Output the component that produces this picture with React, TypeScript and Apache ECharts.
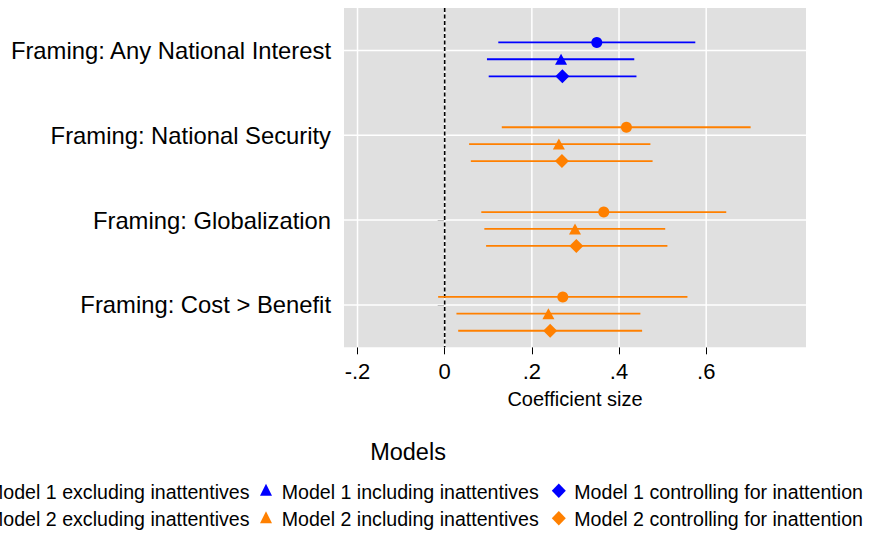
import React, { useEffect, useRef } from "react";
import * as echarts from "echarts";

const categories = [
  "Framing: Any National Interest",
  "Framing: National Security",
  "Framing: Globalization",
  "Framing: Cost > Benefit",
];

const xTickValues = [-0.2, 0, 0.2, 0.4, 0.6];
const xTickLabels = ["-.2", "0", ".2", ".4", ".6"];

// Model 1 appears in the first category, Model 2 in the other three
const m1Cats = [0];
const m2Cats = [1, 2, 3];

const m1ExclCoef = [0.349];
const m1ExclLo = [0.123];
const m1ExclHi = [0.575];
const m1InclCoef = [0.267];
const m1InclLo = [0.097];
const m1InclHi = [0.435];
const m1CtrlCoef = [0.27];
const m1CtrlLo = [0.101];
const m1CtrlHi = [0.44];

const m2ExclCoef = [0.417, 0.365, 0.271];
const m2ExclLo = [0.131, 0.084, -0.015];
const m2ExclHi = [0.702, 0.646, 0.557];
const m2InclCoef = [0.262, 0.299, 0.238];
const m2InclLo = [0.056, 0.091, 0.027];
const m2InclHi = [0.472, 0.506, 0.449];
const m2CtrlCoef = [0.269, 0.302, 0.242];
const m2CtrlLo = [0.06, 0.095, 0.031];
const m2CtrlHi = [0.477, 0.511, 0.453];

const legendTitle = "Models";
const legendLabels = [
  ["Model 1 excluding inattentives", "Model 1 including inattentives", "Model 1 controlling for inattention"],
  ["Model 2 excluding inattentives", "Model 2 including inattentives", "Model 2 controlling for inattention"],
];

const BLUE = "#0000ff";
const ORANGE = "#ff8000";
const FONT = "'Liberation Sans', Arial, Helvetica, sans-serif";

const OFF_CIRCLE = -0.094;
const OFF_TRI = 0.104;
const OFF_DIA = 0.305;

function buildSeries(
  name: string,
  color: string,
  symbol: string,
  symbolSize: any,
  cats: number[],
  coef: number[],
  lo: number[],
  hi: number[],
  offset: number
) {
  const ci = {
    type: "custom",
    name: name + " CI",
    xAxisIndex: 0,
    yAxisIndex: 1,
    silent: true,
    z: 3,
    encode: { x: [0, 1], y: 2 },
    data: cats.map((c, i) => [lo[i], hi[i], c + 1 + offset]),
    renderItem: (params: any, api: any) => {
      const p1 = api.coord([api.value(0), api.value(2)]);
      const p2 = api.coord([api.value(1), api.value(2)]);
      return {
        type: "line",
        shape: { x1: p1[0], y1: p1[1], x2: p2[0], y2: p2[1] },
        style: { stroke: color, lineWidth: 1.8 },
      };
    },
  };
  const pts = {
    type: "scatter",
    name,
    xAxisIndex: 0,
    yAxisIndex: 1,
    z: 4,
    symbol,
    symbolSize,
    itemStyle: { color, opacity: 1 },
    data: cats.map((c, i) => [coef[i], c + 1 + offset]),
  };
  return [ci, pts];
}

export default function App() {
  const ref = useRef<HTMLDivElement>(null);
  useEffect(() => {
    if (!ref.current) return;
    const chart = echarts.init(ref.current, null, { renderer: "svg" });

    const gridV = {
      type: "custom",
      xAxisIndex: 0,
      yAxisIndex: 1,
      silent: true,
      z: 1,
      encode: { x: 0, y: 1 },
      data: xTickValues.map((v) => [v, 1]),
      renderItem: (params: any, api: any) => {
        const cs = params.coordSys;
        const x = api.coord([api.value(0), 1])[0];
        return {
          type: "line",
          shape: { x1: x, y1: cs.y, x2: x, y2: cs.y + cs.height },
          style: { stroke: "#ffffff", lineWidth: 1.5 },
        };
      },
    };
    const gridH = {
      type: "custom",
      xAxisIndex: 0,
      yAxisIndex: 1,
      silent: true,
      z: 1,
      encode: { x: 0, y: 1 },
      data: categories.map((_, i) => [0, i + 1]),
      renderItem: (params: any, api: any) => {
        const cs = params.coordSys;
        const y = api.coord([0, api.value(1)])[1];
        return {
          type: "line",
          shape: { x1: cs.x, y1: y, x2: cs.x + cs.width, y2: y },
          style: { stroke: "#ffffff", lineWidth: 1.5 },
        };
      },
    };
    const zeroLine = {
      type: "custom",
      xAxisIndex: 0,
      yAxisIndex: 1,
      silent: true,
      z: 2,
      encode: { x: 0, y: 1 },
      data: [[0, 1]],
      renderItem: (params: any, api: any) => {
        const cs = params.coordSys;
        const x = api.coord([api.value(0), 1])[0];
        return {
          type: "line",
          shape: { x1: x, y1: cs.y, x2: x, y2: cs.y + cs.height },
          style: { stroke: "#000000", lineWidth: 1.6, lineDash: [4, 2.5] },
        };
      },
    };

    const series: any[] = [
      gridV,
      gridH,
      zeroLine,
      ...buildSeries(legendLabels[0][0], BLUE, "circle", 11, m1Cats, m1ExclCoef, m1ExclLo, m1ExclHi, OFF_CIRCLE),
      ...buildSeries(legendLabels[0][1], BLUE, "triangle", [12, 11], m1Cats, m1InclCoef, m1InclLo, m1InclHi, OFF_TRI),
      ...buildSeries(legendLabels[0][2], BLUE, "diamond", 14, m1Cats, m1CtrlCoef, m1CtrlLo, m1CtrlHi, OFF_DIA),
      ...buildSeries(legendLabels[1][0], ORANGE, "circle", 11, m2Cats, m2ExclCoef, m2ExclLo, m2ExclHi, OFF_CIRCLE),
      ...buildSeries(legendLabels[1][1], ORANGE, "triangle", [12, 11], m2Cats, m2InclCoef, m2InclLo, m2InclHi, OFF_TRI),
      ...buildSeries(legendLabels[1][2], ORANGE, "diamond", 14, m2Cats, m2CtrlCoef, m2CtrlLo, m2CtrlHi, OFF_DIA),
    ];

    // Legend drawn as graphic so the left-clipped layout of the original is kept
    const rowY = [491.7, 519.3];
    const colors = [BLUE, ORANGE];
    const legendEls: any[] = [];
    rowY.forEach((y, r) => {
      const c = colors[r];
      legendEls.push({ type: "circle", shape: { cx: -27.6, cy: y - 1, r: 5.5 }, style: { fill: c } });
      legendEls.push({
        type: "text",
        x: 249.5,
        y,
        style: { text: legendLabels[r][0], fontSize: 19.6, fontFamily: FONT, fill: "#000", align: "right", verticalAlign: "middle" },
      });
      legendEls.push({
        type: "polygon",
        shape: { points: [[260, y + 4], [272, y + 4], [266, y - 8]] },
        style: { fill: c },
      });
      legendEls.push({
        type: "text",
        x: 281.7,
        y,
        style: { text: legendLabels[r][1], fontSize: 19.6, fontFamily: FONT, fill: "#000", align: "left", verticalAlign: "middle" },
      });
      legendEls.push({
        type: "polygon",
        shape: { points: [[558.8, y - 8.2], [565.8, y - 1], [558.8, y + 6.2], [551.8, y - 1]] },
        style: { fill: c },
      });
      legendEls.push({
        type: "text",
        x: 574.3,
        y,
        style: { text: legendLabels[r][2], fontSize: 19.6, fontFamily: FONT, fill: "#000", align: "left", verticalAlign: "middle" },
      });
    });
    legendEls.push({
      type: "text",
      x: 408,
      y: 452,
      style: { text: legendTitle, fontSize: 23.5, fontFamily: FONT, fill: "#000", align: "center", verticalAlign: "middle" },
    });

    chart.setOption({
      animation: false,
      backgroundColor: "#ffffff",
      textStyle: { fontFamily: FONT },
      grid: {
        left: 344,
        top: 8,
        width: 462,
        height: 339.3,
        show: true,
        backgroundColor: "#e0e0e0",
        borderWidth: 0,
        containLabel: false,
        outerBoundsMode: "none",
      },
      xAxis: {
        type: "value",
        min: -0.231,
        max: 0.829,
        name: "Coefficient size",
        nameLocation: "middle",
        nameGap: 42,
        nameTextStyle: { fontSize: 20, color: "#000", fontFamily: FONT },
        axisLine: { show: false },
        axisTick: { show: true, length: 7, customValues: xTickValues, lineStyle: { color: "#000", width: 1 } },
        axisLabel: {
          customValues: xTickValues,
          fontSize: 22,
          color: "#000",
          margin: 13,
          fontFamily: FONT,
          formatter: (v: number) => {
            let best = 0;
            xTickValues.forEach((t, i) => {
              if (Math.abs(t - v) < Math.abs(xTickValues[best] - v)) best = i;
            });
            return xTickLabels[best];
          },
        },
        splitLine: { show: false },
      },
      yAxis: [
        {
          type: "category",
          data: categories,
          inverse: true,
          boundaryGap: true,
          axisLine: { show: false },
          axisTick: { show: true, alignWithLabel: true, length: 7, lineStyle: { color: "#000", width: 1 } },
          axisLabel: { fontSize: 23.8, color: "#000", margin: 13, fontFamily: FONT, padding: [2, 0, 0, 0] },
          splitLine: { show: false },
        },
        {
          type: "value",
          min: 0.5,
          max: 4.5,
          inverse: true,
          show: false,
          splitLine: { show: false },
        },
      ],
      series,
      graphic: legendEls,
    });
    return () => chart.dispose();
  }, []);
  return (
    <div
      ref={ref}
      style={{ position: "absolute", left: 0, top: 0, width: 873, height: 537 }}
    />
  );
}
